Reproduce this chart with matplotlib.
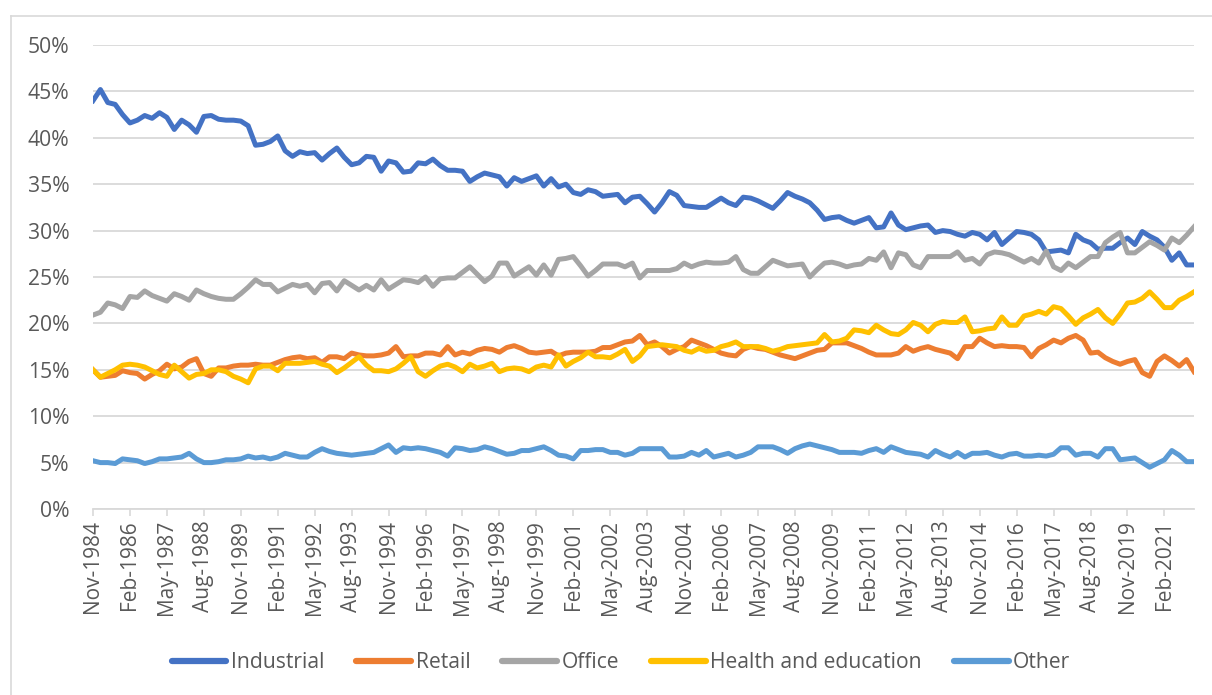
import numpy as np
import pandas as pd
from matplotlib import pyplot as plt
from matplotlib.ticker import PercentFormatter
from matplotlib.lines import Line2D

plt.rcParams['font.family'] = ['Open Sans', 'DejaVu Sans']

# Quarterly dates, Nov-1984 .. Feb-2022
dates = pd.date_range('1984-11-01', periods=150, freq='3MS')
labels = [d.strftime('%b-%Y') for d in dates]

# Shares of total, in percent
industrial = [
    44.0, 45.2, 43.8, 43.6, 42.5, 41.6, 41.9, 42.4, 42.1, 42.7,
    42.2, 40.9, 41.9, 41.4, 40.6, 42.3, 42.4, 42.0, 41.9, 41.9,
    41.8, 41.3, 39.2, 39.3, 39.6, 40.2, 38.6, 38.0, 38.5, 38.3,
    38.4, 37.6, 38.3, 38.9, 37.9, 37.1, 37.3, 38.0, 37.9, 36.4,
    37.5, 37.3, 36.3, 36.4, 37.3, 37.2, 37.7, 37.0, 36.5, 36.5,
    36.4, 35.3, 35.8, 36.2, 36.0, 35.8, 34.8, 35.7, 35.3, 35.6,
    35.9, 34.8, 35.6, 34.7, 35.0, 34.1, 33.9, 34.4, 34.2, 33.7,
    33.8, 33.9, 33.0, 33.6, 33.7, 32.9, 32.0, 33.0, 34.2, 33.8,
    32.7, 32.6, 32.5, 32.5, 33.0, 33.5, 33.0, 32.7, 33.6, 33.5,
    33.2, 32.8, 32.4, 33.2, 34.1, 33.7, 33.4, 33.0, 32.2, 31.2,
    31.4, 31.5, 31.1, 30.8, 31.1, 31.4, 30.3, 30.4, 31.9, 30.6,
    30.1, 30.3, 30.5, 30.6, 29.8, 30.0, 29.9, 29.6, 29.4, 29.8,
    29.6, 29.0, 29.8, 28.5, 29.2, 29.9, 29.8, 29.6, 29.0, 27.7,
    27.8, 27.9, 27.6, 29.6, 29.0, 28.7, 28.0, 28.1, 28.1, 28.7,
    29.2, 28.5, 29.9, 29.4, 29.0, 28.2, 26.8, 27.6, 26.3, 26.3,
]
retail = [
    15.0, 14.2, 14.3, 14.4, 14.9, 14.7, 14.6, 14.0, 14.5, 14.9,
    15.6, 15.1, 15.3, 15.9, 16.2, 14.6, 14.3, 15.2, 15.2, 15.4,
    15.5, 15.5, 15.6, 15.5, 15.5, 15.8, 16.1, 16.3, 16.4, 16.2,
    16.3, 15.8, 16.4, 16.4, 16.2, 16.8, 16.6, 16.5, 16.5, 16.6,
    16.8, 17.5, 16.4, 16.5, 16.5, 16.8, 16.8, 16.6, 17.5, 16.6,
    16.9, 16.7, 17.1, 17.3, 17.2, 16.9, 17.4, 17.6, 17.3, 16.9,
    16.8, 16.9, 17.0, 16.5, 16.8, 16.9, 16.9, 16.9, 17.0, 17.4,
    17.4, 17.7, 18.0, 18.1, 18.7, 17.7, 18.0, 17.5, 16.8, 17.2,
    17.5, 18.2, 17.9, 17.6, 17.2, 16.8, 16.6, 16.5, 17.2, 17.5,
    17.3, 17.2, 16.9, 16.6, 16.4, 16.2, 16.5, 16.8, 17.1, 17.2,
    17.9, 17.9, 17.9, 17.6, 17.3, 16.9, 16.6, 16.6, 16.6, 16.8,
    17.5, 17.0, 17.3, 17.5, 17.2, 17.0, 16.8, 16.2, 17.5, 17.5,
    18.4, 17.9, 17.5, 17.6, 17.5, 17.5, 17.4, 16.4, 17.3, 17.7,
    18.2, 17.9, 18.4, 18.7, 18.2, 16.8, 16.9, 16.3, 15.9, 15.6,
    15.9, 16.1, 14.7, 14.3, 15.9, 16.5, 16.0, 15.4, 16.1, 14.8,
]
office = [
    20.9, 21.2, 22.2, 22.0, 21.6, 22.9, 22.8, 23.5, 23.0, 22.7,
    22.4, 23.2, 22.9, 22.5, 23.6, 23.2, 22.9, 22.7, 22.6, 22.6,
    23.2, 23.9, 24.7, 24.2, 24.2, 23.4, 23.8, 24.2, 24.0, 24.2,
    23.3, 24.3, 24.4, 23.5, 24.6, 24.1, 23.6, 24.1, 23.6, 24.7,
    23.7, 24.2, 24.7, 24.6, 24.4, 25.0, 24.0, 24.8, 24.9, 24.9,
    25.5, 26.1, 25.3, 24.5, 25.1, 26.5, 26.5, 25.1, 25.6, 26.1,
    25.2, 26.3, 25.2, 26.9, 27.0, 27.2, 26.2, 25.1, 25.7, 26.4,
    26.4, 26.4, 26.1, 26.5, 24.9, 25.7, 25.7, 25.7, 25.7, 25.9,
    26.5, 26.1, 26.4, 26.6, 26.5, 26.5, 26.6, 27.2, 25.8, 25.4,
    25.4, 26.1, 26.8, 26.5, 26.2, 26.3, 26.4, 25.0, 25.8, 26.5,
    26.6, 26.4, 26.1, 26.3, 26.4, 27.0, 26.8, 27.7, 26.0, 27.6,
    27.4, 26.3, 26.0, 27.2, 27.2, 27.2, 27.2, 27.7, 26.8, 27.0,
    26.4, 27.4, 27.7, 27.6, 27.4, 27.0, 26.6, 27.0, 26.5, 27.8,
    26.1, 25.7, 26.5, 26.0, 26.6, 27.2, 27.2, 28.7, 29.3, 29.8,
    27.6, 27.6, 28.2, 28.8, 28.4, 27.9, 29.2, 28.7, 29.5, 30.4,
]
health_education = [
    15.0, 14.2, 14.6, 15.0, 15.5, 15.6, 15.5, 15.3, 14.9, 14.5,
    14.3, 15.5, 14.8, 14.1, 14.5, 14.6, 15.0, 15.0, 14.8, 14.3,
    14.0, 13.6, 15.1, 15.4, 15.4, 14.9, 15.7, 15.7, 15.7, 15.8,
    15.9, 15.6, 15.4, 14.7, 15.2, 15.8, 16.4, 15.5, 14.9, 14.9,
    14.8, 15.1, 15.7, 16.4, 14.8, 14.3, 14.9, 15.4, 15.6, 15.3,
    14.8, 15.6, 15.2, 15.4, 15.7, 14.8, 15.1, 15.2, 15.1, 14.8,
    15.3, 15.5, 15.3, 16.6, 15.4, 15.9, 16.3, 16.9, 16.4, 16.4,
    16.3, 16.7, 17.2, 15.9, 16.5, 17.5, 17.6, 17.7, 17.6, 17.5,
    17.1, 16.9, 17.3, 17.0, 17.1, 17.5, 17.7, 18.0, 17.5, 17.5,
    17.5, 17.3, 17.0, 17.2, 17.5, 17.6, 17.7, 17.8, 17.9, 18.8,
    18.0, 18.1, 18.4, 19.3, 19.2, 19.0, 19.8, 19.3, 18.9, 18.8,
    19.3, 20.1, 19.8, 19.1, 19.9, 20.2, 20.1, 20.1, 20.7, 19.1,
    19.2, 19.4, 19.5, 20.7, 19.8, 19.8, 20.8, 21.0, 21.3, 21.0,
    21.8, 21.6, 20.8, 19.9, 20.6, 21.0, 21.5, 20.6, 20.0, 21.0,
    22.2, 22.3, 22.7, 23.4, 22.6, 21.7, 21.7, 22.5, 22.9, 23.4,
]
other = [
    5.2, 5.0, 5.0, 4.9, 5.4, 5.3, 5.2, 4.9, 5.1, 5.4,
    5.4, 5.5, 5.6, 6.0, 5.4, 5.0, 5.0, 5.1, 5.3, 5.3,
    5.4, 5.7, 5.5, 5.6, 5.4, 5.6, 6.0, 5.8, 5.6, 5.6,
    6.1, 6.5, 6.2, 6.0, 5.9, 5.8, 5.9, 6.0, 6.1, 6.5,
    6.9, 6.1, 6.6, 6.5, 6.6, 6.5, 6.3, 6.1, 5.7, 6.6,
    6.5, 6.3, 6.4, 6.7, 6.5, 6.2, 5.9, 6.0, 6.3, 6.3,
    6.5, 6.7, 6.3, 5.8, 5.7, 5.4, 6.3, 6.3, 6.4, 6.4,
    6.1, 6.1, 5.8, 6.0, 6.5, 6.5, 6.5, 6.5, 5.6, 5.6,
    5.7, 6.1, 5.8, 6.3, 5.6, 5.8, 6.0, 5.6, 5.8, 6.1,
    6.7, 6.7, 6.7, 6.4, 6.0, 6.5, 6.8, 7.0, 6.8, 6.6,
    6.4, 6.1, 6.1, 6.1, 6.0, 6.3, 6.5, 6.1, 6.7, 6.4,
    6.1, 6.0, 5.9, 5.6, 6.3, 5.9, 5.6, 6.1, 5.6, 6.0,
    6.0, 6.1, 5.8, 5.6, 5.9, 6.0, 5.7, 5.7, 5.8, 5.7,
    5.9, 6.6, 6.6, 5.8, 6.0, 6.0, 5.6, 6.5, 6.5, 5.3,
    5.4, 5.5, 5.0, 4.5, 4.9, 5.3, 6.3, 5.8, 5.1, 5.1,
]

series = [
    ('Industrial', industrial, '#4472C4'),
    ('Retail', retail, '#ED7D31'),
    ('Office', office, '#A5A5A5'),
    ('Health and education', health_education, '#FFC000'),
    ('Other', other, '#5B9BD5'),
]

W, H = 1212, 695
fig = plt.figure(figsize=(W / 100, H / 100), dpi=100)

# outer chart border (left and top visible)
fig.add_artist(Line2D([11 / W, 11 / W], [0, 1 - 16 / H], color='#d9d9d9', lw=1.2))
fig.add_artist(Line2D([11 / W, 1], [1 - 16 / H, 1 - 16 / H], color='#d9d9d9', lw=1.2))

x0, x1, y0, y1 = 93, 1194, 509, 45
ax = fig.add_axes([x0 / W, 1 - y0 / H, (x1 - x0) / W, (y0 - y1) / H])

x = np.arange(len(labels))
for name, vals, col in series:
    ax.plot(x, vals, color=col, lw=3.6, label=name, solid_joinstyle='round')

ax.set_xlim(0, len(labels) - 1)
ax.set_ylim(0, 50)
ax.set_yticks(np.arange(0, 51, 5))
ax.yaxis.set_major_formatter(PercentFormatter(100, decimals=0))
ax.grid(axis='y', color='#d9d9d9', lw=1.3)
ax.set_axisbelow(True)

ax.set_xticks(x[::5])
ax.set_xticklabels(labels[::5], rotation=90)

for s in ['top', 'right', 'left']:
    ax.spines[s].set_visible(False)
ax.spines['bottom'].set_color('#d9d9d9')
ax.spines['bottom'].set_linewidth(1.3)

ax.tick_params(axis='y', length=0, pad=17, labelsize=15.2, labelcolor='#595959')
ax.tick_params(axis='x', length=5, width=1.2, color='#d9d9d9', pad=3,
               labelsize=15, labelcolor='#595959')

handles = [Line2D([0], [0], color=col, lw=4.5, solid_capstyle='round')
           for _, _, col in series]
fig.legend(handles, [s[0] for s in series], loc='center',
           bbox_to_anchor=(621 / W, 1 - 663 / H), ncol=5, frameon=False,
           fontsize=15.2, labelcolor='#595959', handlelength=2.6,
           handletextpad=0.22, columnspacing=1.5)

fig.savefig('out.png', dpi=100)
